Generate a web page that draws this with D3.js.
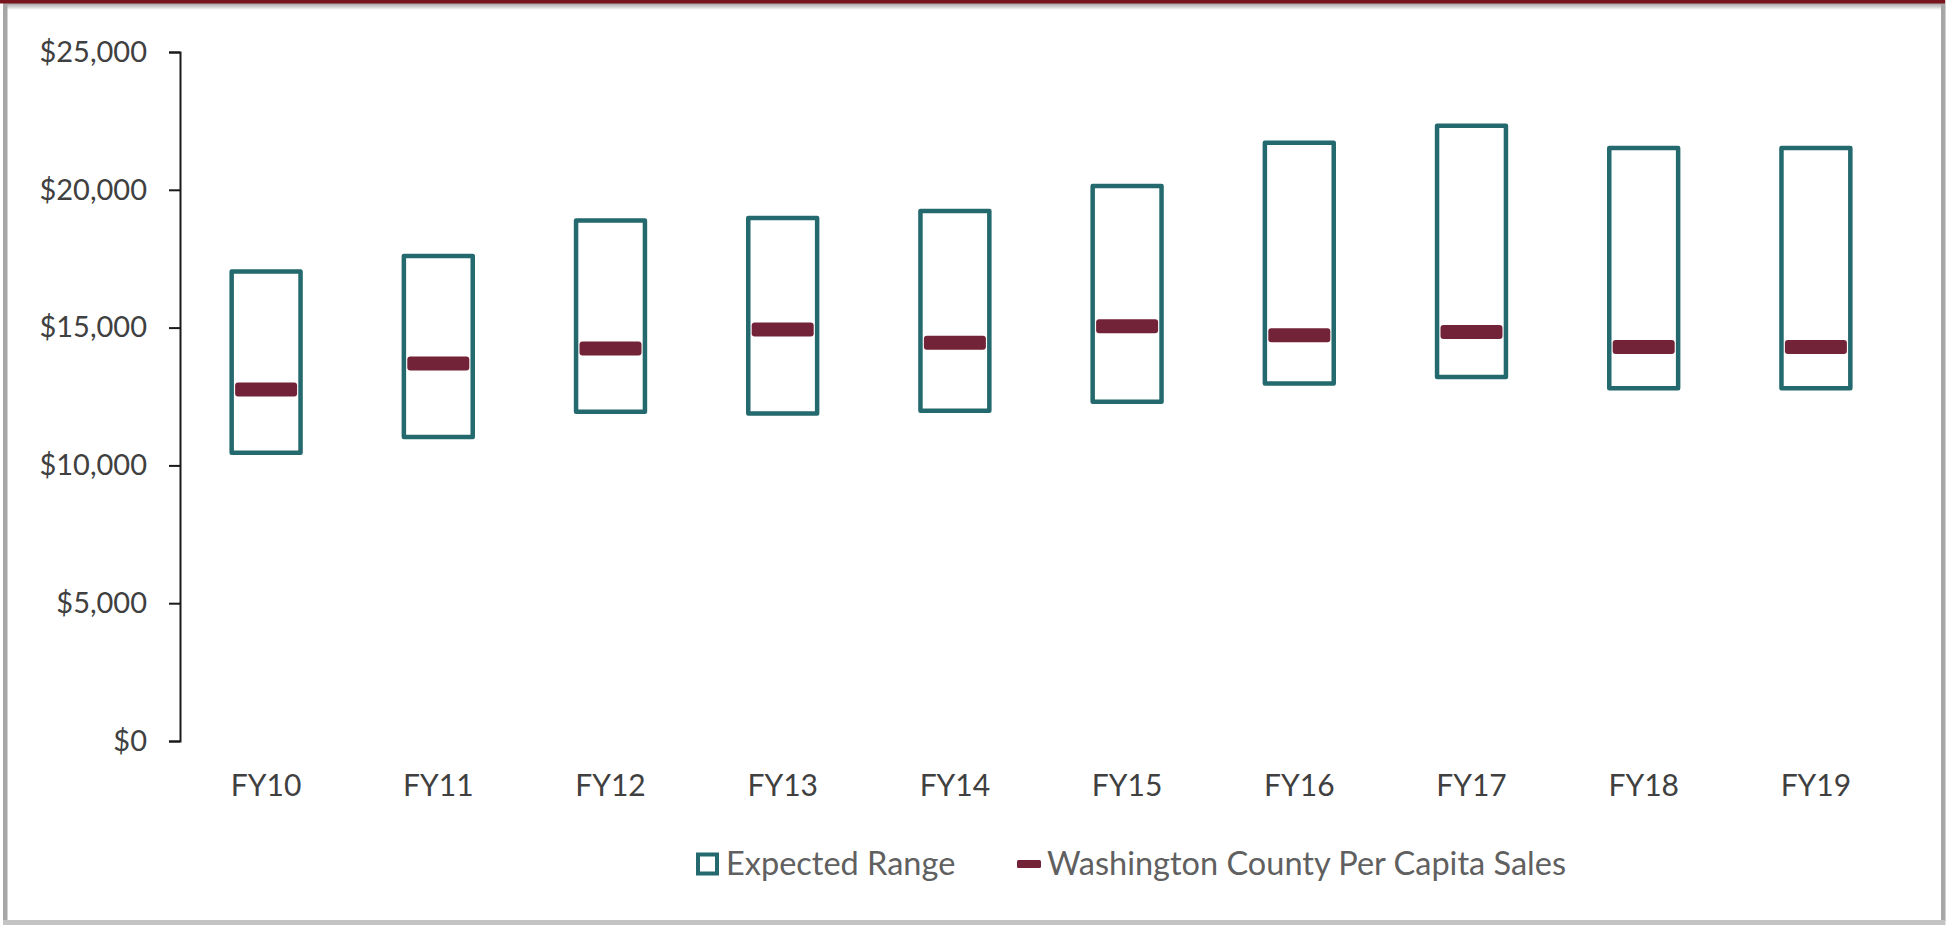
<!DOCTYPE html>
<html>
<head>
<meta charset="utf-8">
<script src="https://cdn.jsdelivr.net/npm/d3@7"></script>
<style>
	body { margin: 0; background: #fff; }
	svg { display: block; }
	.axis text { font-family: Lato, "Open Sans", sans-serif; fill: #404040; }
</style>
</head>
<body>
<svg id="svg_chart"></svg>
<script>
// values
var categories = ["FY10", "FY11", "FY12", "FY13", "FY14", "FY15", "FY16", "FY17", "FY18", "FY19"];
var range_low = [10460, 11030, 11950, 11880, 11980, 12310, 12970, 13210, 12800, 12800];
var range_high = [17040, 17600, 18890, 18980, 19230, 20140, 21710, 22320, 21520, 21520];
var county_sales = [12750, 13700, 14240, 14930, 14450, 15050, 14720, 14840, 14300, 14300];
var y_ticks = [0, 5000, 10000, 15000, 20000, 25000];

var legend_labels = ["Expected Range", "Washington County Per Capita Sales"];

var col_teal = "#23696e";
var col_maroon = "#732337";

var svg_width = 1950,
	svg_height = 925;

var svg = d3.select("svg#svg_chart")
	.attr("width", svg_width)
	.attr("height", svg_height);

// ====================================================
// frame round the picture: grey sides, dark red top with a bit of shadow
var defs = svg.append("defs");
var grad = defs.append("linearGradient")
	.attr("id", "top_shadow")
	.attr("x1", 0).attr("y1", 0).attr("x2", 0).attr("y2", 1);
grad.append("stop").attr("offset", "0%").attr("stop-color", "#9c9c9c");
grad.append("stop").attr("offset", "100%").attr("stop-color", "#ffffff");

svg.append("rect").attr("x", 3).attr("y", 3).attr("width", 1942).attr("height", 7)
	.attr("fill", "url(#top_shadow)");
svg.append("rect").attr("x", 3).attr("y", 0).attr("width", 4.5).attr("height", 921).attr("fill", "#a6a6a6");
svg.append("rect").attr("x", 1941).attr("y", 0).attr("width", 4.5).attr("height", 921).attr("fill", "#a6a6a6");
svg.append("rect").attr("x", 3).attr("y", 920).attr("width", 1942.5).attr("height", 5).attr("fill", "#c4c4c4");
svg.append("rect").attr("x", 0).attr("y", 0).attr("width", 1945).attr("height", 3.5).attr("fill", "#78141e");

// ====================================================
// scales
var x = d3.scaleBand()
	.domain(categories)
	.range([180, 1902])
	.paddingInner(0.6)
	.paddingOuter(0.3);

var y = d3.scaleLinear()
	.domain([0, 25000])
	.range([741, 52]);

// y axis -- the outer ticks make the little bracket at both ends
var g_y = svg.append("g")
	.attr("class", "axis axis--y")
	.attr("transform", "translate(180,0)")
	.call(d3.axisLeft(y)
		.tickValues(y_ticks)
		.tickSize(11)
		.tickSizeOuter(11)
		.tickPadding(22)
		.tickFormat(function(d) { return "$" + d3.format(",")(d); }));

g_y.select(".domain").attr("stroke", "#1a1a1a").attr("stroke-width", 2);
g_y.selectAll(".tick line").attr("stroke", "#1a1a1a").attr("stroke-width", 2);
g_y.selectAll("text").attr("font-size", 29);

// x axis -- labels only, no line
var g_x = svg.append("g")
	.attr("class", "axis axis--x")
	.attr("transform", "translate(0,741)")
	.call(d3.axisBottom(x).tickSize(0).tickPadding(34));

g_x.select(".domain").remove();
g_x.selectAll("text").attr("font-size", 30);

// ====================================================
// expected range boxes
svg.append("g")
	.attr("class", "ranges")
	.selectAll("rect")
	.data(categories)
	.enter().append("rect")
		.attr("x", function(d) { return x(d); })
		.attr("y", function(d, i) { return y(range_high[i]); })
		.attr("width", x.bandwidth())
		.attr("height", function(d, i) { return y(range_low[i]) - y(range_high[i]); })
		.attr("fill", "none")
		.attr("stroke", col_teal)
		.attr("stroke-width", 4.5)
		.attr("stroke-linejoin", "round");

// county per capita sales -- thick dashes inside the boxes
var dash_w = x.bandwidth() * 0.9,
	dash_h = 14;

svg.append("g")
	.attr("class", "county")
	.selectAll("rect")
	.data(categories)
	.enter().append("rect")
		.attr("x", function(d) { return x(d) + (x.bandwidth() - dash_w) / 2; })
		.attr("y", function(d, i) { return y(county_sales[i]) - dash_h / 2; })
		.attr("width", dash_w)
		.attr("height", dash_h)
		.attr("rx", 3)
		.attr("fill", col_maroon);

// ====================================================
// legend
var legend = svg.append("g")
	.attr("class", "legend")
	.attr("transform", "translate(0,864)");

legend.append("rect")
	.attr("x", 698).attr("y", -9.5)
	.attr("width", 19).attr("height", 19)
	.attr("fill", "none")
	.attr("stroke", col_teal)
	.attr("stroke-width", 4);

legend.append("rect")
	.attr("x", 1017).attr("y", -4)
	.attr("width", 24).attr("height", 8)
	.attr("rx", 1.5)
	.attr("fill", col_maroon);

legend.selectAll("text")
	.data(legend_labels)
	.enter().append("text")
		.attr("x", function(d, i) { return i == 0 ? 726 : 1047; })
		.attr("dy", "0.35em")
		.attr("font-family", "Lato, 'Open Sans', sans-serif")
		.attr("font-size", 32.5)
		.attr("fill", "#606060")
		.text(function(d) { return d; });
</script>
</body>
</html>
